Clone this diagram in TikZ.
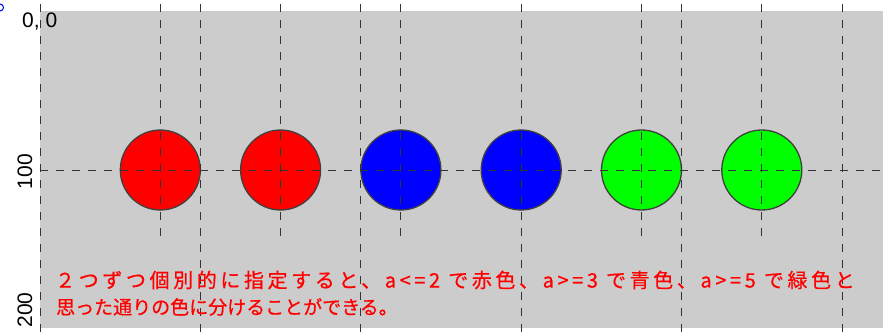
\documentclass[tikz,border=0pt]{standalone}
\usepackage{fontspec}
\setmainfont{Liberation Sans}
\newfontfamily\jpfont[FakeBold=0.6]{Noto Sans CJK JP}
\newfontfamily\jpwidefont[LetterSpace=18,FakeBold=0.6]{Noto Sans CJK JP}
\usetikzlibrary{positioning}

\begin{document}
\begin{tikzpicture}[x=1pt,y=-1pt, guide/.style={draw=black!80,line width=0.9pt,dash pattern=on 8pt off 8pt}, ball/.style={circle,draw=black!75,line width=1.3pt,minimum size=80pt,inner sep=0pt}, axislabel/.style={font=\fontsize{21}{21}\selectfont,inner sep=0pt}, note/.style={text=red,anchor=west,inner sep=0pt}]
\useasboundingbox (0,0) rectangle (883,336);
\fill[gray!40] (40,11) rectangle (883,328);
\coordinate (top) at (0,4); \coordinate (low) at (0,238); \coordinate (bot) at (0,336);
\coordinate (left) at (40,170); \coordinate (right) at (883,170);
\foreach \i/\col in {1/red,2/red,3/blue,4/blue,5/green,6/green}
  \node[ball,fill=\col] (c\i) at ({40+120.3*\i},170) {};
\foreach \k in {0,...,5}
  \coordinate (g\k) at ({40+160.4*\k},0);
\foreach \k in {0,...,5}
  \draw[guide] (g\k |- top) -- (g\k |- bot);
\foreach \i in {1,...,6}
  \draw[guide] (c\i |- top) -- (c\i |- low);
\draw[guide] (left) -- (right);
\draw[blue,line width=1pt] (0,7.5) circle (3.5);
\node[axislabel,anchor=base west] (origin) at (22,27.3) {0, 0};
\node[axislabel,rotate=90,anchor=base] (y100) at (32,171.5) {100};
\node[axislabel,rotate=90,anchor=base] (y200) at (32,310) {200};
\node[note,font=\jpwidefont\fontsize{20}{20}\selectfont] (note1) at (55,280) {２つずつ個別的に指定すると、a<=2 で赤色、a>=3 で青色、a>=5 で緑色と};
\node[note,font=\jpfont\fontsize{19}{19}\selectfont] (note2) at (56,307) {思った通りの色に分けることができる。};
\end{tikzpicture}
\end{document}
